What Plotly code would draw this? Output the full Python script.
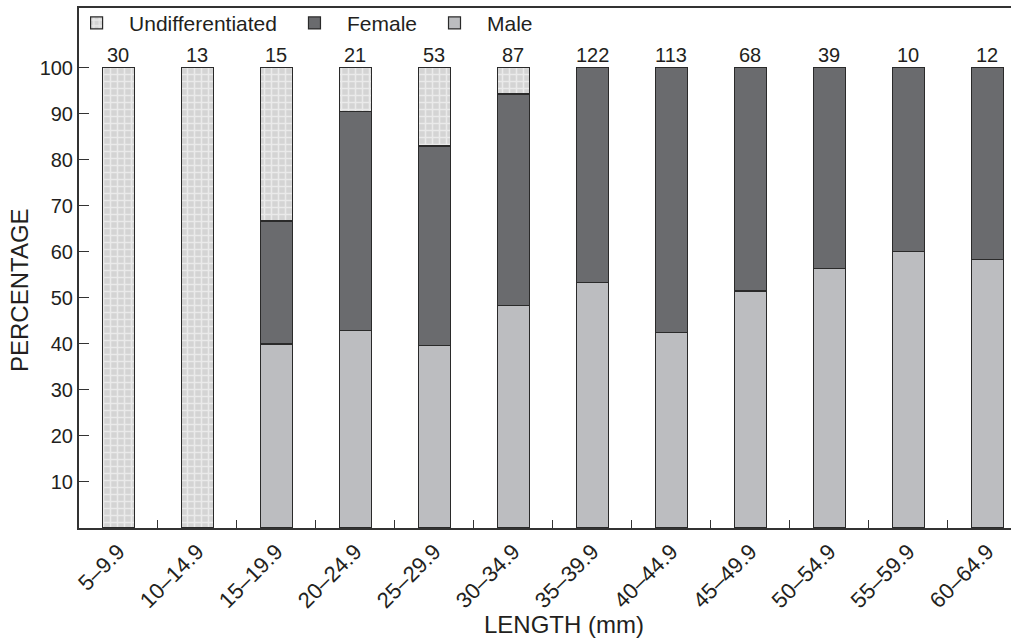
import plotly.graph_objects as go

categories = ["5–9.9", "10–14.9", "15–19.9", "20–24.9", "25–29.9", "30–34.9",
              "35–39.9", "40–44.9", "45–49.9", "50–54.9", "55–59.9", "60–64.9"]
counts = [30, 13, 15, 21, 53, 87, 122, 113, 68, 39, 10, 12]
male = [0, 0, 40.0, 42.9, 39.6, 48.3, 53.3, 42.5, 51.5, 56.4, 60.0, 58.3]
female = [0, 0, 26.7, 47.6, 43.4, 46.0, 46.7, 57.5, 48.5, 43.6, 40.0, 41.7]
undiff = [100, 100, 33.3, 9.5, 17.0, 5.7, 0, 0, 0, 0, 0, 0]
y_ticks = [10, 20, 30, 40, 50, 60, 70, 80, 90, 100]

FONT = "Liberation Sans, Arial, sans-serif"
INK = "#231f20"
FS = 20
line = dict(color="#2a2a2a", width=1.2)

fig = go.Figure()
fig.add_trace(go.Bar(x=categories, y=male, name="Male",
                     marker=dict(color="#bcbdc0", line=line)))
fig.add_trace(go.Bar(x=categories, y=female, name="Female",
                     marker=dict(color="#6a6b6e", line=line)))
fig.add_trace(go.Bar(x=categories, y=undiff, name="Undifferentiated",
                     marker=dict(color="#d4d4d4", line=line,
                                 pattern=dict(shape="+", fgcolor="white",
                                              size=7, solidity=0.4,
                                              fillmode="overlay"))))

for c, n in zip(categories, counts):
    fig.add_annotation(x=c, y=100, text=str(n), showarrow=False,
                       yanchor="bottom", yshift=0,
                       font=dict(size=FS, color=INK, family=FONT))

# axis titles as annotations (positioned like the reference)
fig.add_annotation(text="LENGTH (mm)", xref="paper", yref="paper",
                   x=0.52, y=-0.1865, xanchor="center", yanchor="middle",
                   showarrow=False, font=dict(size=24, color=INK, family=FONT))
fig.add_annotation(text="PERCENTAGE", xref="paper", yref="paper",
                   x=-0.0633, y=0.4577, xanchor="center", yanchor="middle",
                   textangle=-90, showarrow=False,
                   font=dict(size=24, color=INK, family=FONT))

fig.update_layout(
    width=1011, height=640,
    barmode="stack", bargap=0.6,
    plot_bgcolor="white", paper_bgcolor="white",
    margin=dict(l=79, r=0, t=8, b=112),
    font=dict(family=FONT, size=FS, color=INK),
    legend=dict(orientation="h", traceorder="reversed",
                x=-0.016, y=1.01, xanchor="left", yanchor="top",
                itemwidth=55,
                font=dict(size=21, color=INK), bgcolor="rgba(0,0,0,0)"),
    xaxis=dict(range=[-0.5, 11.3], showline=True, linecolor="#333",
               linewidth=2, mirror=True, ticks="inside", ticklen=8,
               tickcolor="#333", tickson="boundaries", tickangle=-45,
               tickfont=dict(size=22, color=INK), showgrid=False),
    yaxis=dict(range=[0, 113], showline=True, linecolor="#333", linewidth=2,
               ticks="inside", ticklen=10, tickcolor="#333",
               tickvals=y_ticks, ticktext=[str(v) for v in y_ticks],
               tickfont=dict(size=FS, color=INK), showgrid=False,
               zeroline=False),
)

fig.write_html("out.html", config={"displayModeBar": False},
               post_script="document.body.style.margin='0';")
